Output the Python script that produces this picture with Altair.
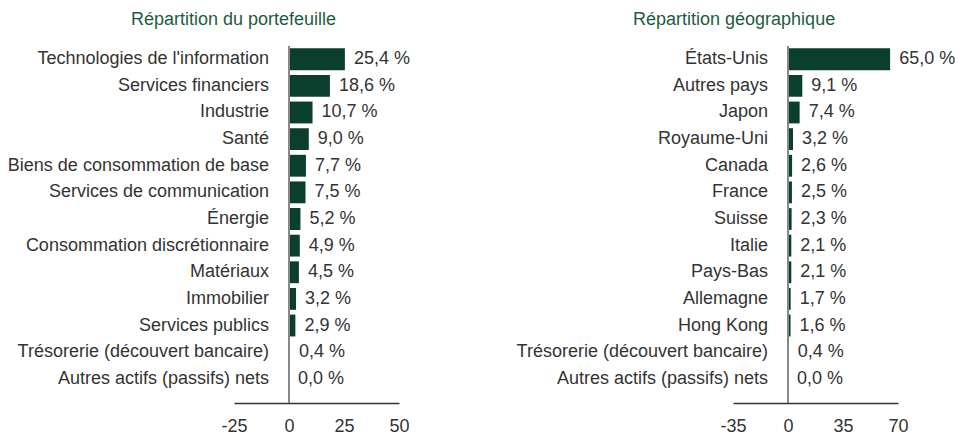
import altair as alt
import pandas as pd

FONT = "Liberation Sans"
BAR = "#0b3f2d"
TITLE_C = "#1d5c3f"
TXT = "#333333"

sectors = ["Technologies de l'information", "Services financiers", "Industrie", "Santé",
           "Biens de consommation de base", "Services de communication", "Énergie",
           "Consommation discrétionnaire", "Matériaux", "Immobilier", "Services publics",
           "Trésorerie (découvert bancaire)", "Autres actifs (passifs) nets"]
sector_values = [25.4, 18.6, 10.7, 9.0, 7.7, 7.5, 5.2, 4.9, 4.5, 3.2, 2.9, 0.4, 0.0]
left_ticks = [-25, 0, 25, 50]

countries = ["États-Unis", "Autres pays", "Japon", "Royaume-Uni", "Canada", "France", "Suisse",
             "Italie", "Pays-Bas", "Allemagne", "Hong Kong",
             "Trésorerie (découvert bancaire)", "Autres actifs (passifs) nets"]
country_values = [65.0, 9.1, 7.4, 3.2, 2.6, 2.5, 2.3, 2.1, 2.1, 1.7, 1.6, 0.4, 0.0]
right_ticks = [-35, 0, 35, 70]

W, H = 165, 368
FS = 18


def panel(cats, vals, ticks, title, title_dx):
    df = pd.DataFrame({
        "cat": cats,
        "val": vals,
        "lab": [f"{v:.1f} %".replace(".", ",") for v in vals],
    })
    y = alt.Y("cat:N", sort=cats, axis=None,
              scale=alt.Scale(paddingInner=0.18, paddingOuter=0.5))
    xscale = alt.Scale(domain=[ticks[0], ticks[-1]], nice=False, zero=False)
    x = alt.X("val:Q", scale=xscale,
              axis=alt.Axis(values=ticks, title=None, grid=False, ticks=False,
                            domainColor="#333333", domainWidth=1.5,
                            labelFont=FONT, labelFontSize=FS, labelColor=TXT,
                            labelPadding=14, labelFlush=False, labelOverlap=False,
                            labelExpr="'' + datum.value"))
    base = alt.Chart(df)
    bars = base.mark_bar(color=BAR).encode(x=x, y=y)
    vlabels = base.mark_text(align="left", baseline="middle", dx=9, font=FONT,
                             fontSize=FS, color=TXT).encode(x="val:Q", y=y, text="lab:N")
    clabels = base.mark_text(align="right", baseline="middle", dx=-20, font=FONT,
                             fontSize=FS, color=TXT).encode(x=alt.datum(0), y=y, text="cat:N")
    zero = base.mark_rule(color="#888888", strokeWidth=1.5).encode(
        x=alt.datum(0), y=alt.value(11), y2=alt.value(H))
    return alt.layer(bars, zero, vlabels, clabels).properties(
        width=W, height=H,
        title=alt.TitleParams(title, font=FONT, fontSize=FS, fontWeight="normal",
                              color=TITLE_C, anchor="start", frame="group",
                              dx=title_dx, offset=6),
    )


left = panel(sectors, sector_values, left_ticks, "Répartition du portefeuille", -103)
right = panel(countries, country_values, right_ticks, "Répartition géographique", -100)

chart = alt.hconcat(left, right, spacing=106).properties(
    padding={"left": 7, "top": 11, "right": 0, "bottom": 0},
    background="white",
).configure_view(stroke=None)

chart.save("out.html", embed_options={"renderer": "svg", "actions": False})
